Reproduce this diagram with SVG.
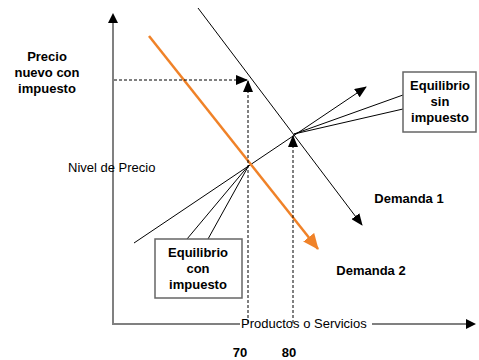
<svg xmlns="http://www.w3.org/2000/svg" width="479" height="360" viewBox="0 0 479 360">
<style>
.t{font-family:"Liberation Sans",Arial,sans-serif;font-size:13px;fill:#000}
.b{font-weight:bold;text-anchor:middle}
.ln{stroke:#000;stroke-width:1;fill:none}
.ds{stroke:#000;stroke-width:1;fill:none;stroke-dasharray:3,2}
.ax{stroke:#808080;stroke-width:2;fill:none}
.box{fill:#fff;stroke:#666;stroke-width:1.5}
</style>
<defs>
<marker id="ah" markerUnits="userSpaceOnUse" markerWidth="12" markerHeight="10" refX="11" refY="5" orient="auto" viewBox="0 0 12 10">
<path d="M0,0 L12,5 L0,10 Z" fill="#000"/>
</marker>
<marker id="ao" markerUnits="userSpaceOnUse" markerWidth="16" markerHeight="14" refX="15" refY="7" orient="auto" viewBox="0 0 16 14">
<path d="M0,0 L16,7 L0,14 Z" fill="#f08228"/>
</marker>
</defs>
<g id="axes">
<line class="ax" x1="113" y1="324" x2="113" y2="23"/>
<path d="M108,23 L113,13 L118,23 Z" fill="#000"/>
<line class="ax" x1="112" y1="324" x2="240" y2="324"/>
<line class="ax" x1="372" y1="324" x2="466" y2="324"/>
<path d="M466,319 L476,324 L466,329 Z" fill="#000"/>
<text id="xlabel" class="t" x="241" y="328">Productos o Servicios</text>
<text id="ylabel" class="t" x="68" y="172">Nivel de Precio</text>
</g>
<g id="connectors">
<line class="ln" x1="198" y1="8" x2="362" y2="225" marker-end="url(#ah)"/>
<line class="ln" x1="134" y1="243" x2="366" y2="87" marker-end="url(#ah)"/>
<line x1="149" y1="36" x2="318" y2="249" stroke="#f08228" stroke-width="2.5" marker-end="url(#ao)"/>
<line class="ds" x1="114" y1="80" x2="247" y2="80" marker-end="url(#ah)"/>
<line class="ds" x1="248" y1="323" x2="248" y2="81" marker-end="url(#ah)"/>
<line class="ds" x1="293" y1="323" x2="293" y2="136" marker-end="url(#ah)"/>
<line class="ln" x1="294" y1="134" x2="403" y2="95"/>
<line class="ln" x1="294" y1="134" x2="403" y2="109"/>
<line class="ln" x1="249" y1="165" x2="187" y2="239"/>
<line class="ln" x1="249" y1="165" x2="208" y2="239"/>
</g>
<g id="precio-nuevo">
<text class="t b" x="47" y="61">Precio</text>
<text class="t b" x="47" y="77">nuevo con</text>
<text class="t b" x="47" y="93">impuesto</text>
</g>
<g id="eq-sin">
<rect class="box" x="403" y="72" width="73" height="60"/>
<text class="t b" x="440" y="90">Equilibrio</text>
<text class="t b" x="440" y="106">sin</text>
<text class="t b" x="440" y="122">impuesto</text>
</g>
<g id="eq-con">
<rect class="box" x="155" y="239" width="87" height="59"/>
<text class="t b" x="198" y="257">Equilibrio</text>
<text class="t b" x="198" y="273">con</text>
<text class="t b" x="198" y="289">impuesto</text>
</g>
<g id="demanda1"><text class="t b" x="409" y="203">Demanda 1</text></g>
<g id="demanda2"><text class="t b" x="371" y="275">Demanda 2</text></g>
<g id="q70"><text class="t b" x="240" y="357">70</text></g>
<g id="q80"><text class="t b" x="289" y="357">80</text></g>
</svg>
